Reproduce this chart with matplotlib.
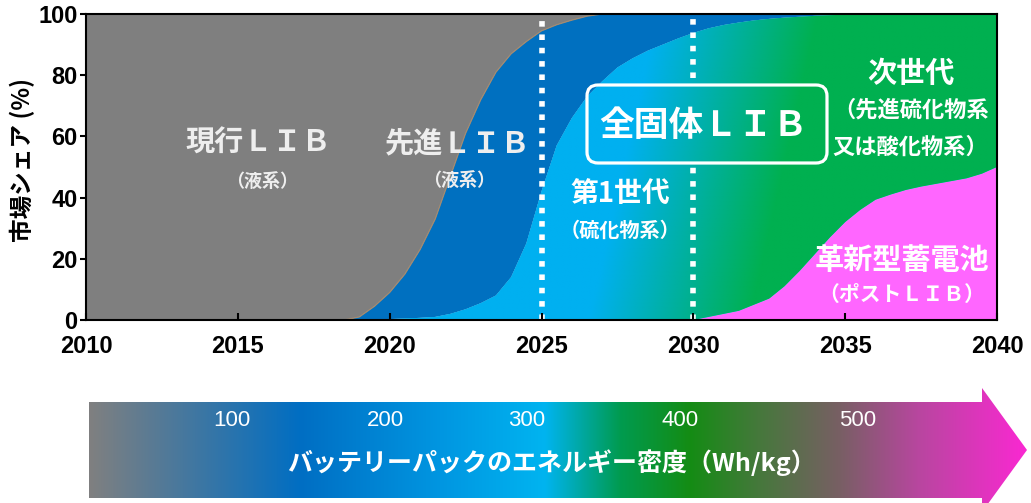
import numpy as np
import matplotlib
matplotlib.use('Agg')
import matplotlib.pyplot as plt
from matplotlib.patches import Polygon, FancyBboxPatch
from matplotlib.colors import to_rgb

plt.rcParams['font.family'] = ['Liberation Sans', 'DejaVu Sans']
jp = ['Noto Sans CJK JP', 'DejaVu Sans']

# market share (%), half-year steps
years = [2010, 2018, 2018.5, 2019, 2019.5, 2020, 2020.5, 2021, 2021.5, 2022,
         2022.5, 2023, 2023.5, 2024, 2024.5, 2025, 2025.5, 2026, 2026.5, 2027,
         2027.5, 2028, 2028.5, 2029, 2029.5, 2030, 2030.5, 2031, 2031.5, 2032,
         2032.5, 2033, 2033.5, 2034, 2034.5, 2035, 2035.5, 2036, 2036.5, 2037,
         2037.5, 2038, 2038.5, 2039, 2039.5, 2040]

# current LIB (liquid)
current = [100, 100, 100, 99, 95.5, 91, 85, 77, 67, 53,
           39, 28, 19, 13, 9, 5.5, 3.5, 2, 0.7, 0,
           0, 0, 0, 0, 0, 0, 0, 0, 0, 0,
           0, 0, 0, 0, 0, 0, 0, 0, 0, 0,
           0, 0, 0, 0, 0, 0]
# advanced LIB (liquid)
advanced = [0, 0, 0, 1, 4.5, 8.7, 14.5, 22.3, 32, 45,
            57.5, 66.5, 73, 73, 66, 52.5, 39.5, 32, 26.3, 22,
            17.5, 14.5, 12, 10, 8, 6.2, 4.7, 3.6, 2.8, 2.1,
            1.6, 1.2, 0.9, 0.6, 0.4, 0.2, 0, 0, 0, 0,
            0, 0, 0, 0, 0, 0]
# all-solid-state LIB
solid = [0, 0, 0, 0, 0, 0.3, 0.5, 0.7, 1, 2,
         3.5, 5.5, 8, 14, 25, 42, 57, 66, 73, 78,
         82.5, 85.5, 88, 90, 92, 93.8, 94.3, 94.4, 94.2, 92.9,
         91.4, 87.8, 83.1, 77.9, 72.6, 67.8, 64, 60.7, 59, 57.5,
         56.4, 55.5, 54.6, 53.7, 52.2, 50]
# innovative battery (post LIB)
innovative = [0, 0, 0, 0, 0, 0, 0, 0, 0, 0,
              0, 0, 0, 0, 0, 0, 0, 0, 0, 0,
              0, 0, 0, 0, 0, 0, 1, 2, 3, 5,
              7, 11, 16, 21.5, 27, 32, 36, 39.3, 41, 42.5,
              43.6, 44.5, 45.4, 46.3, 47.8, 50]

x_ticks = [2010, 2015, 2020, 2025, 2030, 2035, 2040]
y_ticks = [0, 20, 40, 60, 80, 100]
density = [100, 200, 300, 400, 500]
density_x = [232, 385, 527, 680, 858]

gray = '#7f7f7f'
dblue = '#0070c0'
lblue = '#00b0f0'
green = '#00b050'
magenta = '#ff66ff'

fig = plt.figure(figsize=(10.31, 5.03), dpi=100)
ax = fig.add_axes([86/1031, 1 - 320/503, 911/1031, 306/503])
ax.set_axisbelow(False)

polys = ax.stackplot(years, innovative, solid, advanced, current,
                     colors=[magenta, lblue, dblue, gray], lw=0)

# light blue -> green shading inside the solid-state area (lower part greener)
gx, gy = np.meshgrid(np.linspace(2010, 2040, 600), np.linspace(0, 100, 300))
t = np.clip((gx - 2030) / 5.3 + (88 - gy) / 234 + 0.27, 0, 1)[..., None]
shade = np.array(to_rgb(lblue)) * (1 - t) + np.array(to_rgb(green)) * t
im = ax.imshow(shade, extent=[2010, 2040, 0, 100], origin='lower',
               aspect='auto', zorder=2, interpolation='bilinear')
im.set_clip_path(polys[1].get_paths()[0], transform=ax.transData)

# thin edge between current and advanced
top_adv = np.cumsum([innovative, solid, advanced], axis=0)[-1]
ax.plot(years[2:20], top_adv[2:20], color='#a38a70', lw=0.9, zorder=2.1)

dots = dict(color='white', lw=4, ls=(0, (1, 1.4)), zorder=2.2)
ax.axvline(2025, **dots)
ax.axvline(2030, ymax=0.51, **dots)
ax.axvline(2030, ymin=0.79, **dots)

ax.set_xlim(2010, 2040)
ax.set_ylim(0, 100)
ax.set_xticks(x_ticks)
ax.set_yticks(y_ticks)
ax.tick_params(axis='x', direction='in', length=5, width=1.5, pad=11, labelsize=17)
ax.tick_params(axis='y', direction='out', length=4, width=1.5, pad=2, labelsize=17)
for lbl in ax.get_xticklabels() + ax.get_yticklabels():
    lbl.set_fontweight('bold')
for s in ax.spines.values():
    s.set_linewidth(1.5)

fig.text(22/1031, 1 - 160/503, '市場シェア (%)', rotation=90, ha='center',
         va='center', fontsize=17, family=jp, weight='bold')

# labels inside the chart
lab = dict(ha='center', va='center', family=jp, weight='bold', zorder=3)
ax.text(2015.66, 57.8, '現行ＬＩＢ', fontsize=21, color='#eeeeee', **lab)
ax.text(2015.8, 45.4, '（液系）', fontsize=13, color='#eeeeee', **lab)
ax.text(2022.25, 57.8, '先進ＬＩＢ', fontsize=21, color='#eeeeee', **lab)
ax.text(2022.3, 45.6, '（液系）', fontsize=13, color='#eeeeee', **lab)
ax.text(2030.35, 63.7, '全固体ＬＩＢ', fontsize=25, color='white', **lab)
ax.text(2027.58, 40.8, '第1世代', fontsize=20, color='white', **lab)
ax.text(2027.58, 29.4, '（硫化物系）', fontsize=14.5, color='white', **lab)
ax.text(2037.16, 80.7, '次世代', fontsize=21, color='white', **lab)
ax.text(2037.16, 68.6, '（先進硫化物系', fontsize=16, color='white', **lab)
ax.text(2037.16, 56.5, '又は酸化物系）', fontsize=16, color='white', **lab)
ax.text(2036.87, 19.6, '革新型蓄電池', fontsize=21, color='white', **lab)
ax.text(2036.87, 8.2, '（ポストＬＩＢ）', fontsize=15, color='white', **lab)

# overlay in pixel coordinates: box and energy density arrow
ov = fig.add_axes([0, 0, 1, 1])
ov.set_zorder(2)
ov.axis('off')

ov.add_patch(FancyBboxPatch((587, 85), 240, 78,
                            boxstyle='round,pad=0,rounding_size=11',
                            fc='none', ec='white', lw=2.3))

arrow = Polygon([(89, 402), (982, 402), (982, 388), (1027, 450),
                 (982, 512), (982, 498), (89, 498)], closed=True,
                fc='none', ec='none')
ov.add_patch(arrow)
stop_x = [89, 300, 440, 545, 620, 690, 760, 840, 920, 1027]
stop_c = [(128, 128, 128), (0, 110, 195), (0, 150, 225), (0, 180, 240),
          (0, 155, 80), (20, 140, 20), (70, 120, 60), (120, 95, 100),
          (185, 70, 160), (250, 40, 210)]
xs = np.arange(89, 1028)
grad = np.stack([np.interp(xs, stop_x, [c[i] for c in stop_c]) for i in range(3)],
                axis=-1)[None, :, :] / 255
ai = ov.imshow(grad, extent=[89, 1027, 512, 388], aspect='auto',
               interpolation='bilinear')
ai.set_clip_path(arrow)

for d, x in zip(density, density_x):
    ov.text(x, 420, str(d), ha='center', va='center', fontsize=16, color='white')
ov.text(551, 463, 'バッテリーパックのエネルギー密度（Wh/kg）', ha='center',
        va='center', fontsize=18, color='white', family=jp, weight='bold')

ov.set_xlim(0, 1031)
ov.set_ylim(503, 0)

fig.savefig('out.png', dpi=100)
